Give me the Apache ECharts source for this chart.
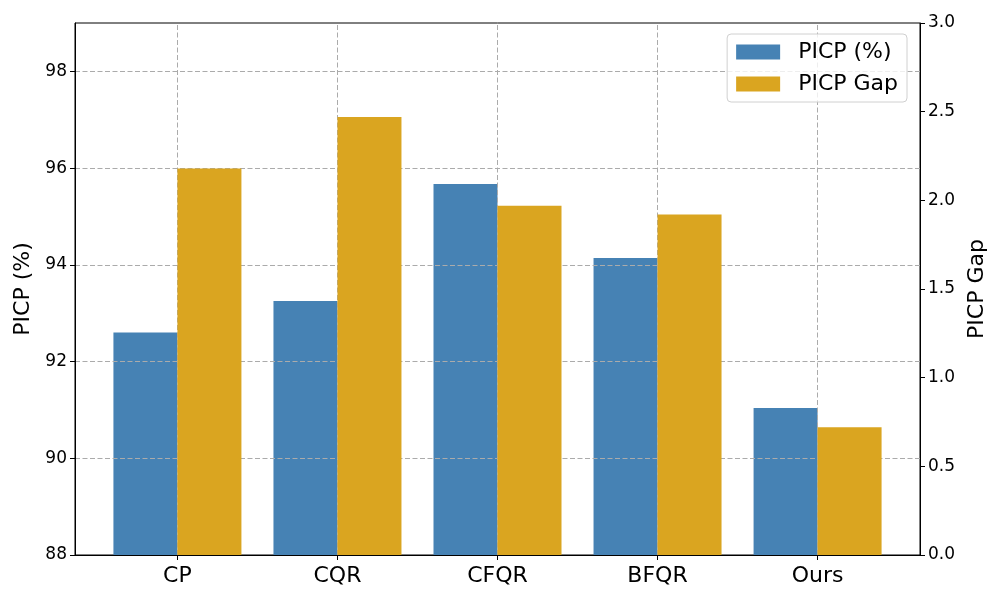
<!DOCTYPE html>
<html>
<head>
<meta charset="utf-8">
<script src="https://cdn.jsdelivr.net/npm/echarts@6/dist/echarts.min.js"></script>
<style>html,body{margin:0;padding:0;background:#fff}#c{width:1000px;height:600px}</style>
</head>
<body>
<div id="c"></div>
<script>
const categories = ['CP', 'CQR', 'CFQR', 'BFQR', 'Ours'];
const picp = [92.6, 93.25, 95.67, 94.14, 91.04];
const picpGap = [2.18, 2.47, 1.97, 1.92, 0.72];
const leftTicks = [88, 90, 92, 94, 96, 98];
const rightTicks = [0.0, 0.5, 1.0, 1.5, 2.0, 2.5, 3.0];

const idx = categories.map((c, i) => i);
const font = 'DejaVu Sans';
const gridLine = { color: '#ababab', type: [5, 2.5], width: 1 };

const chart = echarts.init(document.getElementById('c'), null, { renderer: 'canvas' });
chart.setOption({
  animation: false,
  backgroundColor: '#fff',
  textStyle: { fontFamily: font },
  grid: { left: 75, right: 80, top: 23, bottom: 45, show: true, borderColor: '#000', borderWidth: 1, backgroundColor: 'transparent' },
  legend: {
    right: 93, top: 34, orient: 'vertical',
    itemWidth: 44, itemHeight: 15, itemGap: 10,
    padding: [7, 9, 7, 9],
    backgroundColor: 'rgba(255,255,255,0.8)', borderColor: '#d0d0d0', borderWidth: 1, borderRadius: 4,
    textStyle: { fontSize: 22, fontFamily: font, color: '#000', padding: [0, 0, 0, 13] },
    icon: 'rect',
    data: ['PICP (%)', 'PICP Gap'],
    z: 10
  },
  xAxis: {
    type: 'value', min: -0.64, max: 4.64,
    axisLine: { show: true, onZero: false, lineStyle: { color: '#000', width: 1 } },
    axisTick: { show: true, inside: false, length: 5, lineStyle: { color: '#000' }, customValues: idx },
    axisLabel: { customValues: idx, fontSize: 22, fontFamily: font, color: '#000', margin: 10,
      formatter: v => categories[Math.round(v)] },
    splitLine: { show: false }
  },
  yAxis: [
    {
      type: 'value', min: 88, max: 99, interval: 2, position: 'left', z: 3,
      name: 'PICP (%)', nameLocation: 'middle', nameGap: 40,
      nameTextStyle: { fontSize: 22, fontFamily: font, color: '#000' },
      axisLine: { show: true, onZero: false, lineStyle: { color: '#000', width: 1 } },
      axisTick: { show: true, inside: false, length: 5, lineStyle: { color: '#000' } },
      axisLabel: { fontSize: 17, fontFamily: font, color: '#000', margin: 8, showMaxLabel: false,
        formatter: v => leftTicks.includes(v) ? String(v) : '' },
      splitLine: { show: true, showMinLine: false, showMaxLine: false, lineStyle: gridLine }
    },
    {
      type: 'value', min: 0, max: 3, interval: 0.5, position: 'right',
      name: 'PICP Gap', nameLocation: 'middle', nameGap: 40,
      nameTextStyle: { fontSize: 22, fontFamily: font, color: '#000' },
      axisLine: { show: true, onZero: false, lineStyle: { color: '#000', width: 1 } },
      axisTick: { show: true, inside: false, length: 5, lineStyle: { color: '#000' } },
      axisLabel: { fontSize: 17, fontFamily: font, color: '#000', margin: 8,
        formatter: v => rightTicks.includes(v) ? v.toFixed(1) : '' },
      splitLine: { show: false }
    }
  ],
  series: [
    {
      name: 'PICP (%)', type: 'bar', xAxisIndex: 0, yAxisIndex: 0,
      data: picp.map((v, i) => [i, v]),
      barWidth: 64, barGap: '0%', z: 2,
      itemStyle: { color: '#4682B4' }
    },
    {
      name: 'PICP Gap', type: 'bar', xAxisIndex: 0, yAxisIndex: 1,
      data: picpGap.map((v, i) => [i, v]),
      barWidth: 64, barGap: '0%', z: 5,
      itemStyle: { color: '#DAA520' }
    },
    {
      name: 'vgrid', type: 'line', xAxisIndex: 0, yAxisIndex: 0, z: 3,
      data: [], silent: true,
      markLine: {
        silent: true, symbol: 'none', z: 3, animation: false, label: { show: false },
        lineStyle: gridLine,
        data: idx.map(i => ({ xAxis: i }))
      }
    }
  ]
});
</script>
</body>
</html>
